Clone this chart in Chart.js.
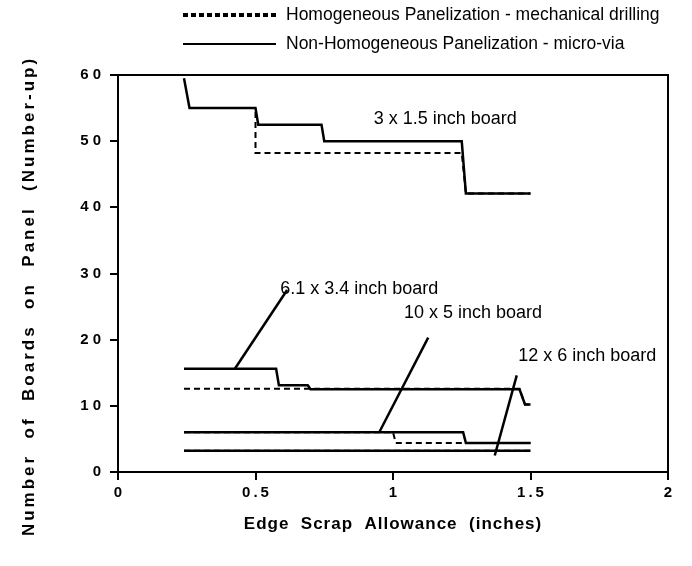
<!DOCTYPE html>
<html>
<head>
<meta charset="utf-8">
<script src="https://cdn.jsdelivr.net/npm/chart.js@4.4.0/dist/chart.umd.min.js"></script>
<style>
  html, body { margin: 0; padding: 0; background: #fff; }
</style>
</head>
<body>
<canvas id="grafico" width="692" height="566"></canvas>
<script>
const xTickVals = [0, 0.5, 1, 1.5, 2];
const yTickVals = [0, 10, 20, 30, 40, 50, 60];

// 3 x 1.5 inch board
const b3x15SolidX = [0.24, 0.26, 0.5, 0.51, 0.74, 0.75, 1.25, 1.265, 1.5];
const b3x15SolidY = [59.5, 55, 55, 52.5, 52.5, 50, 50, 42.1, 42.1];
const b3x15DashX = [0.26, 0.5, 0.5, 1.25, 1.265, 1.5];
const b3x15DashY = [55, 55, 48.2, 48.2, 42.1, 42.1];
// 6.1 x 3.4 inch board
const b61SolidX = [0.24, 0.575, 0.585, 0.69, 0.70, 1.46, 1.48, 1.5];
const b61SolidY = [15.6, 15.6, 13.1, 13.1, 12.5, 12.5, 10.2, 10.2];
const b61DashX = [0.24, 1.46, 1.48, 1.5];
const b61DashY = [12.6, 12.6, 10.2, 10.2];
// 10 x 5 inch board
const b10SolidX = [0.24, 1.255, 1.265, 1.5];
const b10SolidY = [6, 6, 4.4, 4.4];
const b10DashX = [0.24, 1.0, 1.01, 1.5];
const b10DashY = [6, 6, 4.4, 4.4];
// 12 x 6 inch board
const b12SolidX = [0.24, 1.5];
const b12SolidY = [3.2, 3.2];
const b12DashX = [0.24, 1.5];
const b12DashY = [3.2, 3.2];

// leader lines from the labels to the curves
const leader61X = [0.425, 0.615];
const leader61Y = [15.6, 27.5];
const leader10X = [0.95, 1.128];
const leader10Y = [6, 20.3];
const leader12X = [1.37, 1.45];
const leader12Y = [2.5, 14.6];

const notas = ['3 x 1.5 inch board', '6.1 x 3.4 inch board', '10 x 5 inch board', '12 x 6 inch board'];
const notaX = [0.93, 0.59, 1.04, 1.455];
const notaY = [53.4, 27.7, 24.1, 17.6];

const leyendas = ['Homogeneous Panelization - mechanical drilling', 'Non-Homogeneous Panelization - micro-via'];
const tituloX = 'Edge  Scrap  Allowance  (inches)';
const tituloY = 'Number  of  Boards  on  Panel  (Number-up)';

const FONT = '"Liberation Sans", Arial, Helvetica, sans-serif';

function puntos(xs, ys) {
    return xs.map((v, i) => ({ x: v, y: ys[i] }));
}

function serie(xs, ys, dash, ancho) {
    return {
        data: puntos(xs, ys),
        showLine: true,
        borderColor: '#000',
        borderWidth: ancho || 2.5,
        borderDash: dash ? [6, 4] : [],
        pointRadius: 0,
        tension: 0,
        fill: false
    };
}

const extras = {
    id: 'extras',
    afterDraw(chart) {
        const { ctx, chartArea: a, scales: { x, y } } = chart;
        ctx.save();
        // marco completo
        ctx.strokeStyle = '#000';
        ctx.lineWidth = 2;
        ctx.strokeRect(a.left, a.top, a.right - a.left, a.bottom - a.top);

        // textos de las curvas
        ctx.fillStyle = '#000';
        ctx.font = '18px ' + FONT;
        ctx.textAlign = 'left';
        ctx.textBaseline = 'middle';
        notas.forEach((t, i) => {
            ctx.fillText(t, x.getPixelForValue(notaX[i]), y.getPixelForValue(notaY[i]));
        });

        // leyenda
        ctx.lineWidth = 4;
        ctx.setLineDash([5, 3]);
        ctx.beginPath();
        ctx.moveTo(183, 15);
        ctx.lineTo(276, 15);
        ctx.stroke();
        ctx.setLineDash([]);
        ctx.lineWidth = 2;
        ctx.beginPath();
        ctx.moveTo(183, 44);
        ctx.lineTo(276, 44);
        ctx.stroke();
        ctx.font = '17.5px ' + FONT;
        ctx.fillText(leyendas[0], 286, 15);
        ctx.fillText(leyendas[1], 286, 44);

        // titulos de ejes
        ctx.font = 'bold 17px ' + FONT;
        ctx.textAlign = 'center';
        ctx.letterSpacing = '1px';
        ctx.fillText(tituloX, (a.left + a.right) / 2, 524);
        ctx.letterSpacing = '3px';
        ctx.translate(29, 296);
        ctx.rotate(-Math.PI / 2);
        ctx.fillText(tituloY, 0, 0);
        ctx.restore();
    }
};

const ejeComun = {
    grid: { display: true, drawOnChartArea: false, drawTicks: true, tickLength: 8, color: '#000', tickColor: '#000', lineWidth: 2 },
    border: { display: true, color: '#000', width: 2 }
};

new Chart(document.getElementById('grafico'), {
    type: 'scatter',
    data: {
        datasets: [
            serie(b3x15SolidX, b3x15SolidY, false),
            serie(b3x15DashX, b3x15DashY, true, 2),
            serie(b61SolidX, b61SolidY, false),
            serie(b61DashX, b61DashY, true, 2),
            serie(b10SolidX, b10SolidY, false),
            serie(b10DashX, b10DashY, true, 2),
            serie(b12SolidX, b12SolidY, false),
            serie(b12DashX, b12DashY, true, 2),
            serie(leader61X, leader61Y, false, 2.5),
            serie(leader10X, leader10Y, false, 2.5),
            serie(leader12X, leader12Y, false, 2.5)
        ]
    },
    options: {
        responsive: false,
        animation: false,
        layout: { padding: { top: 75, right: 24, left: 0, bottom: 0 } },
        plugins: { legend: { display: false }, tooltip: { enabled: false } },
        scales: {
            x: {
                type: 'linear',
                min: 0,
                max: 2,
                afterFit(s) { s.height = 94; },
                afterBuildTicks(s) { s.ticks = xTickVals.map(v => ({ value: v })); },
                ticks: {
                    color: '#000',
                    padding: 4,
                    font: { family: FONT, size: 15, weight: 'bold' },
                    callback: v => String(v).split('').join('\u2009')
                },
                ...ejeComun
            },
            y: {
                type: 'linear',
                min: 0,
                max: 60,
                afterFit(s) { s.width = 118; },
                afterBuildTicks(s) { s.ticks = yTickVals.map(v => ({ value: v })); },
                ticks: {
                    color: '#000',
                    padding: 9,
                    font: { family: FONT, size: 15, weight: 'bold' },
                    callback: v => String(v).split('').join(' ')
                },
                ...ejeComun
            }
        }
    },
    plugins: [extras]
});
</script>
</body>
</html>
